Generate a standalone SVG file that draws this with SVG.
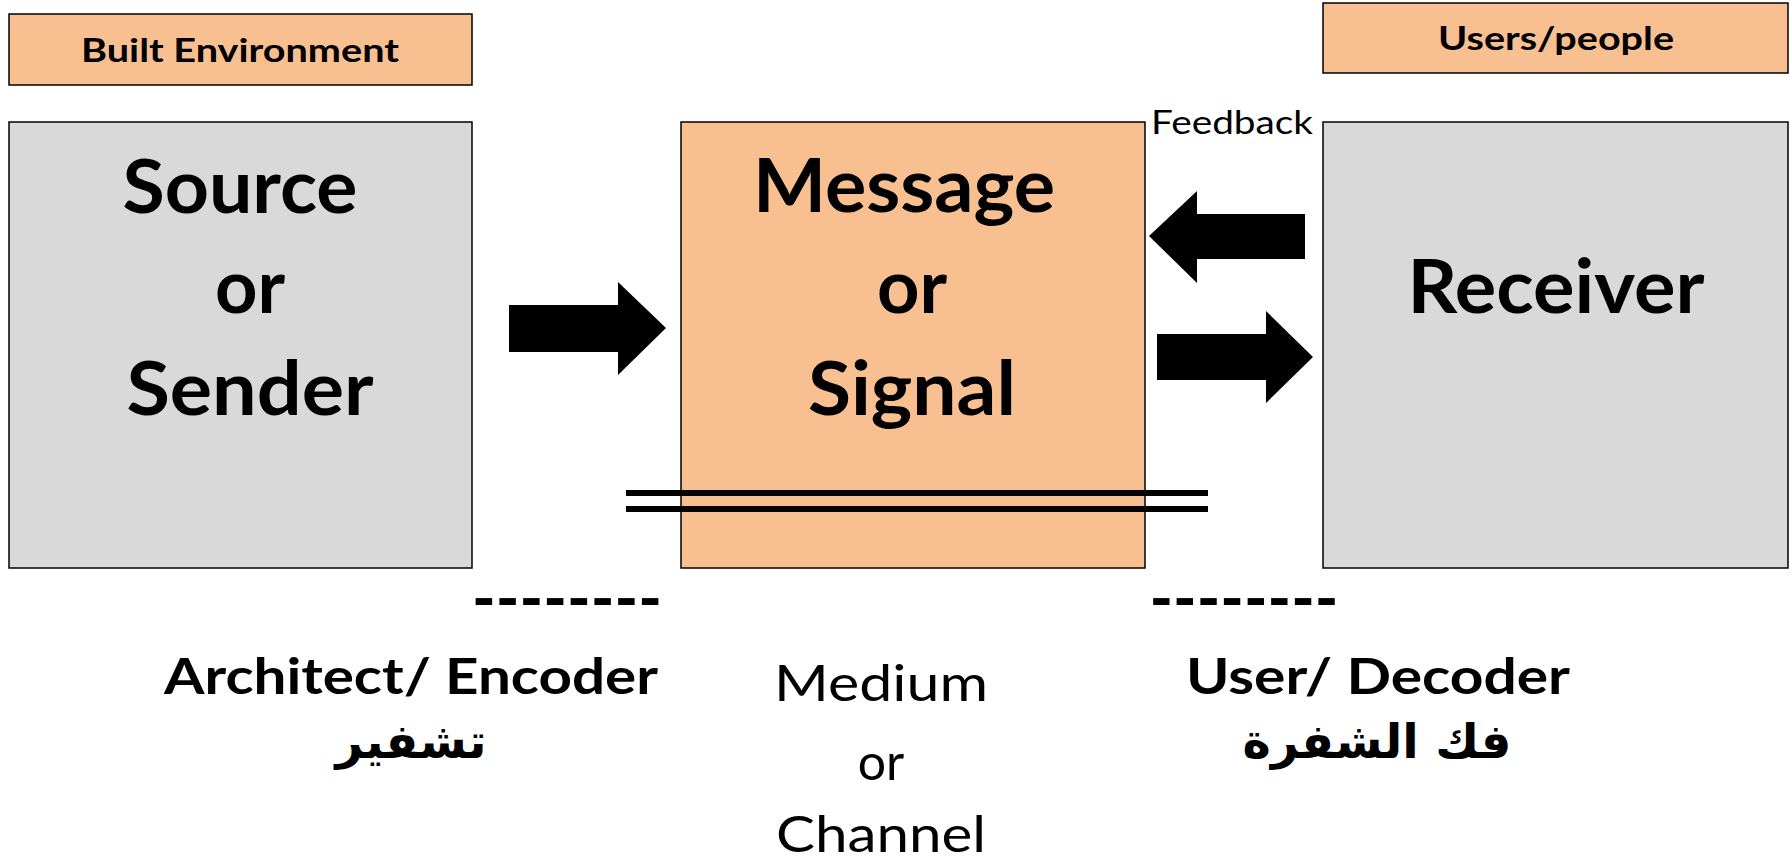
<svg xmlns="http://www.w3.org/2000/svg" width="1791" height="859" viewBox="0 0 1791 859">
  <style>
    .orange { fill: #F8BF90; stroke: #000; stroke-width: 1.5; }
    .grey { fill: #D9D9D9; stroke: #000; stroke-width: 1.5; }
    .big { font-family: Lato, "Open Sans", sans-serif; font-weight: bold; font-size: 74px; fill: #000; text-anchor: middle; }
    .tag { font-family: Lato, "Open Sans", sans-serif; font-weight: bold; font-size: 33px; fill: #000; text-anchor: middle; }
    .label { font-family: Lato, "Open Sans", sans-serif; font-weight: bold; font-size: 50px; fill: #000; text-anchor: middle; }
    .dash { font-family: Lato, "Open Sans", sans-serif; font-weight: bold; font-size: 66px; fill: #000; text-anchor: middle; }
    .plain { font-family: Lato, "Open Sans", sans-serif; font-size: 50px; fill: #000; text-anchor: middle; }
    .small { font-family: Lato, "Open Sans", sans-serif; font-size: 33px; fill: #000; }
    .arabic { font-family: "DejaVu Sans", sans-serif; font-weight: bold; font-size: 48px; fill: #000; text-anchor: middle; }
    .arrow { fill: #000; }
    .rule { stroke: #000; stroke-width: 6; }
  </style>

  <!-- header tags -->
  <g id="built-environment">
    <rect class="orange" x="9" y="14" width="463" height="71"/>
    <text class="tag" x="240" y="62" textLength="318" lengthAdjust="spacingAndGlyphs">Built Environment</text>
  </g>
  <g id="users-people">
    <rect class="orange" x="1323" y="3" width="465" height="70"/>
    <text class="tag" x="1556" y="50" textLength="236" lengthAdjust="spacingAndGlyphs">Users/people</text>
  </g>

  <!-- main boxes -->
  <g id="source">
    <rect class="grey" x="9" y="122" width="463" height="446"/>
    <text class="big" x="240" y="213" textLength="235" lengthAdjust="spacingAndGlyphs">Source</text>
    <text class="big" x="250" y="313">or</text>
    <text class="big" x="250" y="415" textLength="247" lengthAdjust="spacingAndGlyphs">Sender</text>
  </g>
  <g id="message">
    <rect class="orange" x="681" y="122" width="464" height="446"/>
    <text class="big" x="904" y="212" textLength="302" lengthAdjust="spacingAndGlyphs">Message</text>
    <text class="big" x="912" y="313">or</text>
    <text class="big" x="912" y="415" textLength="208" lengthAdjust="spacingAndGlyphs">Signal</text>
  </g>
  <g id="receiver">
    <rect class="grey" x="1323" y="122" width="465" height="446"/>
    <text class="big" x="1556" y="313" textLength="297" lengthAdjust="spacingAndGlyphs">Receiver</text>
  </g>

  <!-- connectors: block arrows and channel rule -->
  <g id="connectors">
    <polygon class="arrow" points="509,305 618,305 618,282 666,328 618,375 618,352 509,352"/>
    <polygon class="arrow" points="1305,214 1197,214 1197,191 1149,236 1197,283 1197,259 1305,259"/>
    <polygon class="arrow" points="1157,334 1266,334 1266,311 1313,357 1266,403 1266,380 1157,380"/>
    <line class="rule" x1="626" y1="493" x2="1208" y2="493"/>
    <line class="rule" x1="626" y1="509" x2="1208" y2="509"/>
  </g>

  <g id="feedback">
    <text class="small" x="1151" y="134" textLength="162" lengthAdjust="spacingAndGlyphs">Feedback</text>
  </g>

  <!-- bottom labels -->
  <g id="encoder">
    <text class="dash" x="567" y="622" textLength="190" lengthAdjust="spacingAndGlyphs">--------</text>
    <text class="label" x="411" y="694" textLength="494" lengthAdjust="spacingAndGlyphs">Architect/ Encoder</text>
    <text class="arabic" x="411" y="758" direction="rtl">تشفير</text>
  </g>
  <g id="medium">
    <text class="plain" x="881" y="701" textLength="214" lengthAdjust="spacingAndGlyphs">Medium</text>
    <text class="plain" x="881" y="780">or</text>
    <text class="plain" x="881" y="852" textLength="210" lengthAdjust="spacingAndGlyphs">Channel</text>
  </g>
  <g id="decoder">
    <text class="dash" x="1244" y="622" textLength="189" lengthAdjust="spacingAndGlyphs">--------</text>
    <text class="label" x="1378" y="694" textLength="384" lengthAdjust="spacingAndGlyphs">User/ Decoder</text>
    <text class="arabic" x="1377" y="758" direction="rtl">فك الشفرة</text>
  </g>
</svg>
